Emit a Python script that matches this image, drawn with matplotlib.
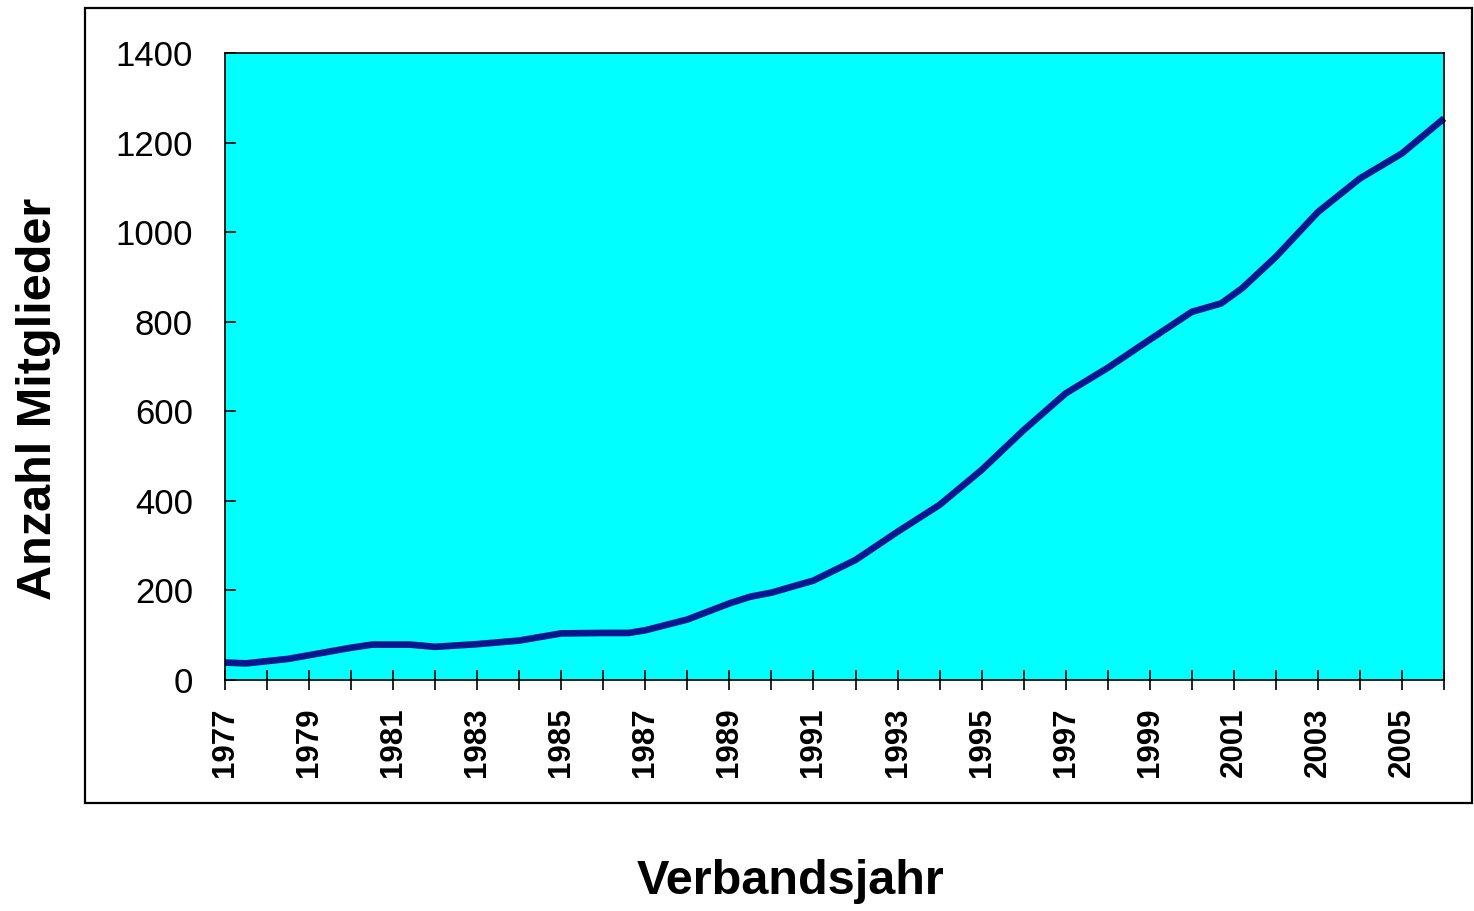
import matplotlib
matplotlib.use("Agg")
import matplotlib.pyplot as plt
from matplotlib.patches import Rectangle

plt.rcParams['font.family'] = ['Liberation Sans', 'DejaVu Sans']

years = [1977, 1977.5, 1978.5, 1980, 1980.5, 1981.4, 1982, 1983, 1984, 1985, 1986, 1986.6,
         1987, 1988, 1989, 1989.5, 1990, 1991, 1992, 1993, 1994, 1995, 1996, 1997, 1998,
         1999, 2000, 2000.7, 2001.2, 2002, 2003, 2004, 2005, 2006]
members = [39, 37, 47, 72, 79, 79, 74, 80, 88, 104, 105, 105,
           111, 135, 171, 186, 195, 222, 268, 331, 391, 469, 558, 640, 697,
           760, 822, 841, 875, 945, 1045, 1120, 1176, 1254]

tick_years = list(range(1977, 2007))
label_years = list(range(1977, 2006, 2))
y_ticks = [0, 200, 400, 600, 800, 1000, 1200, 1400]

fig = plt.figure(figsize=(14.74, 9.11), dpi=100)
ax = fig.add_axes([0.1526, 0.2536, 0.9797 - 0.1526, 0.9418 - 0.2536])
ax.set_facecolor('#00FFFF')

ax.plot(years, members, color='#0a168f', lw=4.8, solid_joinstyle='round', solid_capstyle='butt', clip_on=False)

ax.set_xlim(1977, 2006)
ax.set_ylim(0, 1400)
ax.set_xticks(tick_years)
ax.set_xticklabels([str(y) if y in label_years else '' for y in tick_years],
                   rotation=90, fontsize=22.5, fontweight='bold')
ax.set_yticks(y_ticks)
ax.set_yticklabels([str(v) for v in y_ticks], fontsize=25)
ax.tick_params(axis='x', direction='inout', length=15, width=1.2, pad=12, colors='black')
ax.tick_params(axis='y', direction='in', length=8, width=1.2, pad=23)
for s in ax.spines.values():
    s.set_linewidth(1.2)
    s.set_color('black')

fig.text(0.026, 0.562, 'Anzahl Mitglieder', rotation=90, fontsize=35, fontweight='bold',
         ha='center', va='center')
fig.text(0.536, 0.032, 'Verbandsjahr', fontsize=35, fontweight='bold', ha='center', va='center')

fig.patches.append(Rectangle((0.0577, 0.1186), 0.9986 - 0.0577, 0.9912 - 0.1186,
                             transform=fig.transFigure, fill=False, edgecolor='black', lw=1.6))

fig.savefig('out.png', dpi=100)
